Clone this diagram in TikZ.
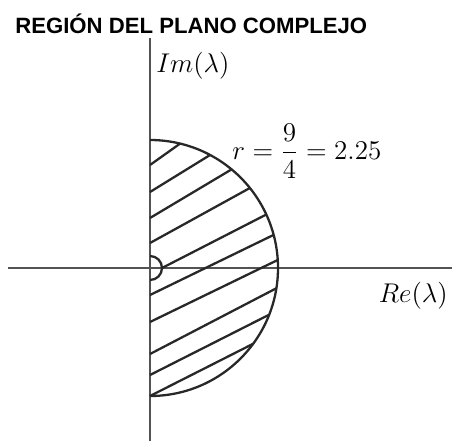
\documentclass[tikz,border=0pt]{standalone}
\usepackage{fontspec}
\usepackage{amsmath}
\newfontfamily\titleFont{Liberation Sans}
\definecolor{plotGray}{RGB}{40,40,40}

\begin{document}
\begin{tikzpicture}[
  axisLine/.style={draw=plotGray!80,line width=1.4pt},
  hatchLine/.style={draw=plotGray,line width=1.3pt},
  mathLabel/.style={inner sep=0pt,scale=1.07,transform shape,font=\fontsize{14.4}{17}\selectfont}]
\useasboundingbox (-3.0,-3.46) rectangle (6.04,5.36);
% axes
\draw[axisLine] (-2.84,0) -- (6.04,0);
\draw[axisLine] (0,-3.46) -- (0,4.6);
% half disc and the hole at the origin
\draw[hatchLine] (0,2.56) arc[start angle=90,end angle=-90,radius=2.56];
\draw[hatchLine] (0,0.24) arc[start angle=90,end angle=-90,radius=0.24];
% hatching
\foreach \ys/\ang in {2.06/76.4,1.52/62,1.0/50.4,0.5/38.7,-0.54/15,-1.08/3.6,-1.72/-9.1,-2.14/-21.4,-2.56/-36.3}
  \draw[hatchLine] (0,\ys) -- (\ang:2.56);
\draw[hatchLine] (0.24,0) -- (24.7:2.56);
% labels
\node[anchor=base west,inner sep=0pt,font=\titleFont\fontsize{12.6}{15}\selectfont\bfseries] (title) at (-2.7,4.7) {REGIÓN DEL PLANO COMPLEJO};
\node[mathLabel,anchor=base west] (imLabel) at (0.12,3.92) {$Im(\lambda)$};
\node[mathLabel,anchor=base east] (reLabel) at (5.96,-0.68) {$Re(\lambda)$};
\node[mathLabel,anchor=west] (radLabel) at (1.64,2.34) {$r=\dfrac{9}{4}=2.25$};
\end{tikzpicture}
\end{document}
